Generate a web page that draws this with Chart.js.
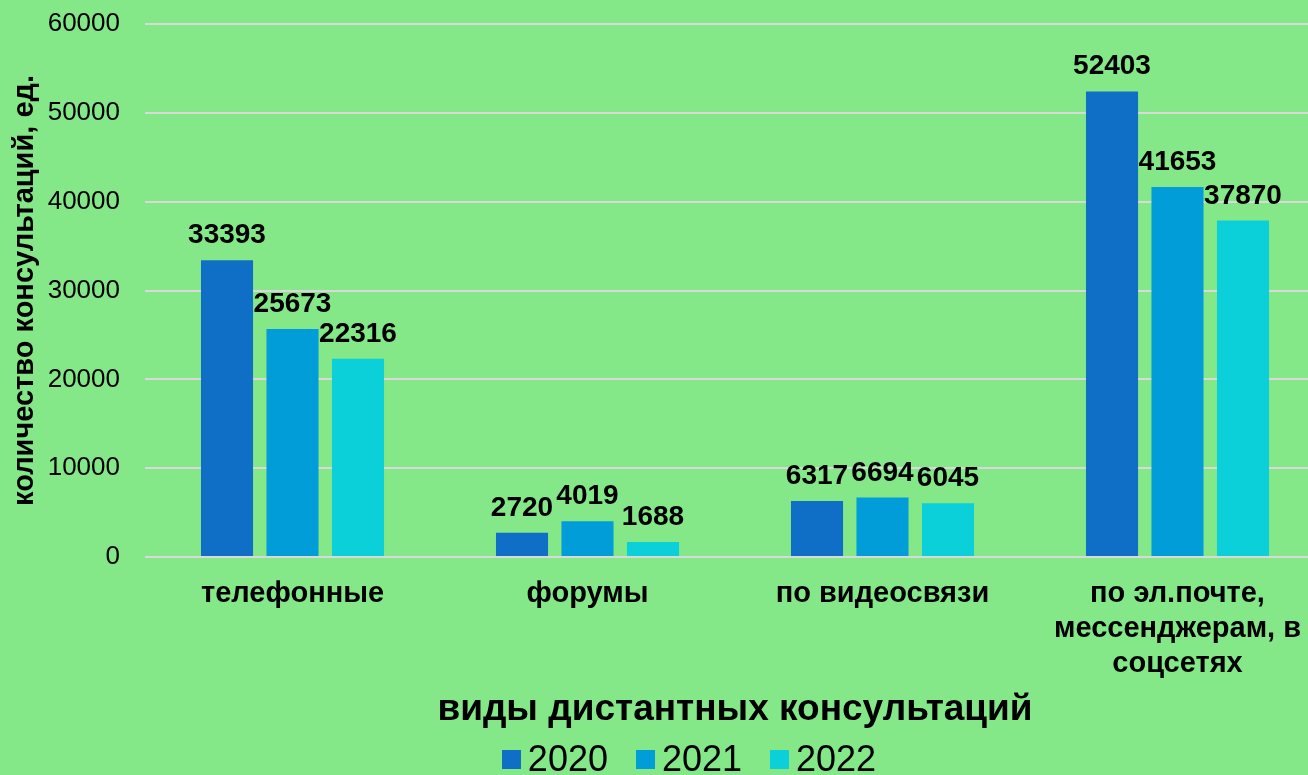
<!DOCTYPE html>
<html>
<head>
<meta charset="utf-8">
<script src="https://cdn.jsdelivr.net/npm/chart.js@4/dist/chart.umd.min.js"></script>
<style>
  html, body { margin: 0; padding: 0; background: #84e788; overflow: hidden; }
  body { width: 1308px; height: 775px; }
  #wrap { width: 1372px; height: 775px; position: relative; }
  #legend {
    position: absolute; left: 6px; right: 0; top: 741px;
    display: flex; justify-content: center; align-items: center;
    font: 36px/36px 'Liberation Sans', Arial, sans-serif; color: #000;
  }
  #legend .item { display: flex; align-items: center; margin: 0 14px; }
  #legend .box { width: 19px; height: 19px; margin-right: 7px; }
</style>
</head>
<body>
<div id="wrap">
  <canvas id="chart"></canvas>
  <div id="legend"></div>
</div>
<script>
// ── Data ───────────────────────────────────────────────
const categories = [
  "телефонные",
  "форумы",
  "по видеосвязи",
  ["по эл.почте,", "мессенджерам, в", "соцсетях"],
];
const years = ["2020", "2021", "2022"];
const values2020 = [33393, 2720, 6317, 52403];
const values2021 = [25673, 4019, 6694, 41653];
const values2022 = [22316, 1688, 6045, 37870];
const colors = ["#0f6fc6", "#009dd9", "#0bd0d9"];

const FONT = "'Liberation Sans', Arial, sans-serif";

// value labels above the bars
const barLabels = {
  id: "barLabels",
  afterDatasetsDraw(chart) {
    const ctx = chart.ctx;
    ctx.save();
    ctx.font = `bold 28px ${FONT}`;
    ctx.fillStyle = "#000";
    ctx.textAlign = "center";
    ctx.textBaseline = "alphabetic";
    chart.data.datasets.forEach((ds, i) => {
      chart.getDatasetMeta(i).data.forEach((bar, j) => {
        ctx.fillText(String(ds.data[j]), bar.x, bar.y - 17);
      });
    });
    ctx.restore();
  },
};

new Chart(document.getElementById("chart"), {
  type: "bar",
  data: {
    labels: categories,
    datasets: [values2020, values2021, values2022].map((d, i) => ({
      label: years[i],
      data: d,
      backgroundColor: colors[i],
      categoryPercentage: 0.666,
      barPercentage: 0.795,
    })),
  },
  options: {
    responsive: true,
    maintainAspectRatio: false,
    animation: false,
    layout: { padding: { top: 24, right: 47, left: 0, bottom: 35 } },
    plugins: {
      tooltip: { enabled: false },
      legend: { display: false },
    },
    scales: {
      x: {
        grid: { display: false, drawTicks: false },
        border: { display: false },
        ticks: {
          color: "#000",
          font: { family: FONT, size: 29, weight: "bold", lineHeight: 1.2 },
          padding: 20,
          maxRotation: 0,
          autoSkip: false,
        },
        title: {
          display: true,
          text: "виды дистантных консультаций",
          color: "#000",
          font: { family: FONT, size: 37, weight: "bold" },
          padding: { top: 0, bottom: 8 },
        },
        afterFit(scale) {
          scale.height = 183;
          scale.paddingLeft = 0;
          scale.paddingRight = 0;
        },
      },
      y: {
        min: 0,
        max: 60000,
        grid: { color: "#d9d9d9", lineWidth: 2, drawTicks: false },
        border: { display: false },
        ticks: {
          stepSize: 10000,
          color: "#000",
          font: { family: FONT, size: 26 },
          padding: 25,
          callback: (v) => String(v),
        },
        title: {
          display: true,
          text: "количество консультаций, ед.",
          color: "#000",
          font: { family: FONT, size: 29, weight: "bold" },
          padding: { top: 8, bottom: 0 },
        },
        afterFit(scale) {
          scale.width = 145;
          scale.paddingTop = 0;
          scale.paddingBottom = 0;
        },
      },
    },
  },
  plugins: [barLabels],
});

// legend
const legendEl = document.getElementById("legend");
years.forEach((y, i) => {
  const item = document.createElement("div");
  item.className = "item";
  item.innerHTML = `<span class="box" style="background:${colors[i]}"></span>${y}`;
  legendEl.appendChild(item);
});
</script>
</body>
</html>
